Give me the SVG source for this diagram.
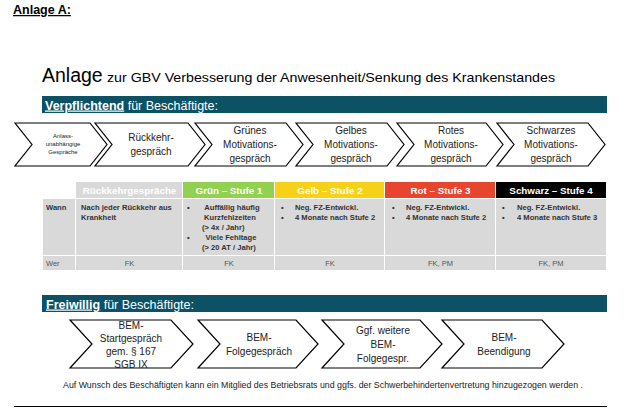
<svg xmlns="http://www.w3.org/2000/svg" width="627" height="412" viewBox="0 0 627 412">
<style>
text{font-family:"Liberation Sans",Arial,sans-serif;}
.chev{fill:#fff;stroke:#000;stroke-width:1.2;stroke-linejoin:miter;}
.ct{font-size:10px;fill:#222;text-anchor:middle;}
.ct2{font-size:10px;fill:#222;text-anchor:middle;}
.cs{font-size:6px;fill:#222;text-anchor:middle;}
.bar{fill:#0c5264;}
.bart{font-size:12.5px;fill:#fff;}
.hd{font-size:9.8px;font-weight:bold;fill:#fff;text-anchor:middle;}
.cell{fill:#d9d9d9;}
.bt{font-size:7.6px;font-weight:bold;fill:#333;}
.wt{font-size:7.5px;fill:#555;}
.mid{text-anchor:middle;}
</style>
<rect width="627" height="412" fill="#fff"/>
<text x="13" y="14" font-size="12.5" font-weight="bold" text-decoration="underline" fill="#000">Anlage A:</text>
<text x="42" y="82" font-size="19.5" fill="#000">Anlage</text>
<text x="107" y="82" font-size="13" fill="#000" textLength="448" lengthAdjust="spacingAndGlyphs">zur GBV Verbesserung der Anwesenheit/Senkung des Krankenstandes</text>

<g id="bar-verpflichtend">
<rect class="bar" x="42" y="96" width="565" height="17"/>
<text class="bart" x="45" y="109.5"><tspan font-weight="bold" text-decoration="underline">Verpflichtend</tspan> für Beschäftigte:</text>
</g>

<g id="chev-anlass">
<polygon class="chev" points="15,123 90,123 107,144.5 90,166 15,166 32,144.5"/>
<text class="cs" x="63" y="138">Anlass-</text>
<text class="cs" x="63" y="146">unabhängige</text>
<text class="cs" x="63" y="154">Gespräche</text>
</g>
<g id="chev-rueckkehr">
<polygon class="chev" points="95,123 188,123 205,144.5 188,166 95,166 112,144.5"/>
<text class="ct" x="151" y="141">Rückkehr-</text>
<text class="ct" x="151" y="155">gespräch</text>
</g>
<g id="chev-gruen">
<polygon class="chev" points="195,123 286,123 303,144.5 286,166 195,166 212,144.5"/>
<text class="ct" x="250" y="134">Grünes</text>
<text class="ct" x="250" y="148">Motivations-</text>
<text class="ct" x="250" y="162">gespräch</text>
</g>
<g id="chev-gelb">
<polygon class="chev" points="296,123 387,123 404,144.5 387,166 296,166 313,144.5"/>
<text class="ct" x="351" y="134">Gelbes</text>
<text class="ct" x="351" y="148">Motivations-</text>
<text class="ct" x="351" y="162">gespräch</text>
</g>
<g id="chev-rot">
<polygon class="chev" points="397,123 486,123 503,144.5 486,166 397,166 414,144.5"/>
<text class="ct" x="451" y="134">Rotes</text>
<text class="ct" x="451" y="148">Motivations-</text>
<text class="ct" x="451" y="162">gespräch</text>
</g>
<g id="chev-schwarz">
<polygon class="chev" points="497,123 588,123 605,144.5 588,166 497,166 514,144.5"/>
<text class="ct" x="551" y="134">Schwarzes</text>
<text class="ct" x="551" y="148">Motivations-</text>
<text class="ct" x="551" y="162">gespräch</text>
</g>

<g id="table">
<rect x="76" y="182" width="106" height="16" fill="#d9d9d9"/>
<rect x="183" y="182" width="91" height="16" fill="#92d050"/>
<rect x="275" y="182" width="109" height="16" fill="#f7d117"/>
<rect x="385" y="182" width="110" height="16" fill="#e8452f"/>
<rect x="496" y="182" width="110" height="16" fill="#000"/>
<text class="hd" x="129.5" y="194">Rückkehrgespräche</text>
<text class="hd" x="229" y="194">Grün – Stufe 1</text>
<text class="hd" x="330" y="194">Gelb – Stufe 2</text>
<text class="hd" x="440.5" y="194">Rot – Stufe 3</text>
<text class="hd" x="551" y="194">Schwarz – Stufe 4</text>

<rect class="cell" x="43" y="199" width="32" height="56"/>
<rect class="cell" x="76" y="199" width="106" height="56"/>
<rect class="cell" x="183" y="199" width="91" height="56"/>
<rect class="cell" x="275" y="199" width="109" height="56"/>
<rect class="cell" x="385" y="199" width="110" height="56"/>
<rect class="cell" x="496" y="199" width="110" height="56"/>
<rect class="cell" x="43" y="256" width="32" height="14"/>
<rect class="cell" x="76" y="256" width="106" height="14"/>
<rect class="cell" x="183" y="256" width="91" height="14"/>
<rect class="cell" x="275" y="256" width="109" height="14"/>
<rect class="cell" x="385" y="256" width="110" height="14"/>
<rect class="cell" x="496" y="256" width="110" height="14"/>

<text class="bt" x="46" y="210">Wann</text>
<text class="bt" x="81" y="210">Nach jeder Rückkehr aus</text>
<text class="bt" x="81" y="220">Krankheit</text>

<text class="bt" x="187" y="210">•</text>
<text class="bt mid" x="232" y="210">Auffällig häufig</text>
<text class="bt mid" x="230" y="220">Kurzfehlzeiten</text>
<text class="bt" x="202" y="230">(&gt; 4x / Jahr)</text>
<text class="bt" x="187" y="240">•</text>
<text class="bt mid" x="231" y="240">Viele Fehltage</text>
<text class="bt" x="202" y="250">(&gt; 20 AT / Jahr)</text>

<text class="bt" x="281" y="210">•</text>
<text class="bt" x="295" y="210">Neg. FZ-Entwickl.</text>
<text class="bt" x="281" y="220">•</text>
<text class="bt" x="295" y="220">4 Monate nach Stufe 2</text>

<text class="bt" x="392" y="210">•</text>
<text class="bt" x="406" y="210">Neg. FZ-Entwickl.</text>
<text class="bt" x="392" y="220">•</text>
<text class="bt" x="406" y="220">4 Monate nach Stufe 2</text>

<text class="bt" x="502" y="210">•</text>
<text class="bt" x="517" y="210">Neg. FZ-Entwickl.</text>
<text class="bt" x="502" y="220">•</text>
<text class="bt" x="517" y="220">4 Monate nach Stufe 3</text>

<text class="wt" x="46" y="266">Wer</text>
<text class="wt mid" x="129.5" y="266">FK</text>
<text class="wt mid" x="229" y="266">FK</text>
<text class="wt mid" x="330" y="266">FK</text>
<text class="wt mid" x="440.5" y="266">FK, PM</text>
<text class="wt mid" x="551" y="266">FK, PM</text>
</g>

<g id="bar-freiwillig">
<rect class="bar" x="42" y="295" width="565" height="17"/>
<text class="bart" x="46" y="308.5"><tspan font-weight="bold" text-decoration="underline">Freiwillig</tspan> für Beschäftigte:</text>
</g>

<g id="bem-start">
<polygon class="chev" points="70,320 171,320 193,344 171,368 70,368 92,344"/>
<text class="ct2" x="131" y="329">BEM-</text>
<text class="ct2" x="131" y="342">Startgespräch</text>
<text class="ct2" x="131" y="355">gem. § 167</text>
<text class="ct2" x="131" y="368">SGB IX</text>
</g>
<g id="bem-folge">
<polygon class="chev" points="198,320 296,320 318,344 296,368 198,368 220,344"/>
<text class="ct2" x="259" y="341">BEM-</text>
<text class="ct2" x="259" y="355">Folgegespräch</text>
</g>
<g id="bem-weitere">
<polygon class="chev" points="322,320 420,320 442,344 420,368 322,368 344,344"/>
<text class="ct2" x="383" y="334">Ggf. weitere</text>
<text class="ct2" x="383" y="348">BEM-</text>
<text class="ct2" x="383" y="362">Folgegespr.</text>
</g>
<g id="bem-beendigung">
<polygon class="chev" points="442,320 542,320 564,344 542,368 442,368 464,344"/>
<text class="ct2" x="504" y="341">BEM-</text>
<text class="ct2" x="504" y="355">Beendigung</text>
</g>

<text x="63" y="388" font-size="9" fill="#222" textLength="520" lengthAdjust="spacingAndGlyphs">Auf Wunsch des Beschäftigten kann ein Mitglied des Betriebsrats und ggfs. der Schwerbehindertenvertretung hinzugezogen werden .</text>
<line x1="14" y1="406.5" x2="607" y2="406.5" stroke="#000" stroke-width="1"/>
</svg>
